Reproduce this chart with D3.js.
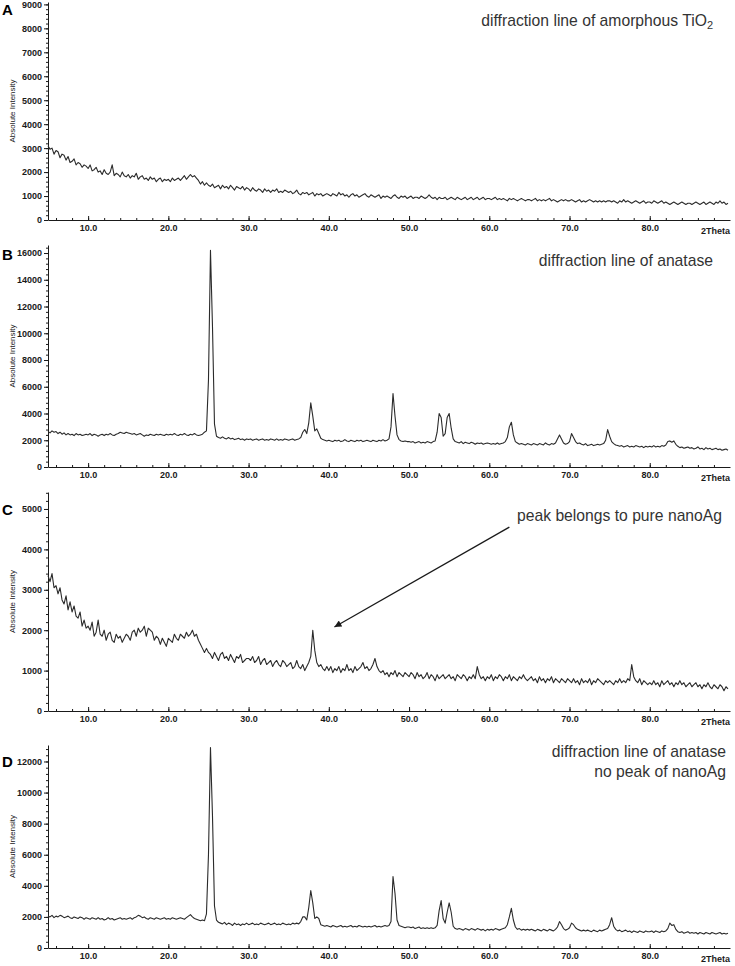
<!DOCTYPE html>
<html>
<head>
<meta charset="utf-8">
<script src="https://cdn.jsdelivr.net/npm/d3@7"></script>
<style>
	body { margin: 0; background: #fff; }
	svg { display: block; font-family: "Liberation Sans", Arial, sans-serif; }
</style>
</head>
<body>
<div id="chart"></div>
<script>
"use strict";

const width = 735, height = 966;

//---- Data
// scan grid: 5.00 .. 89.75 deg 2theta, 0.25 deg per step
const scanStart = 5, scanStep = 0.25;
const xTicks = [10, 20, 30, 40, 50, 60, 70, 80];
const xEndLabel = '2Theta';
const yLabel = 'Absolute Intensity';
const panelLetters = ['A', 'B', 'C', 'D'];
const panelMax = [9100, 16600, 5420, 13060];
const panelStep = [1000, 2000, 1000, 2000];

// A - amorphous TiO2
const intensityA = [
	3100, 2950, 3000, 2750, 2900, 2850, 2600, 2750, 2700, 2500, 2650, 2400, 2450, 2550, 2300, 2400, 2350, 2200, 2300, 2250,
	2150, 2300, 2050, 2100, 2200, 2000, 2050, 1900, 2100, 1950, 1900, 2000, 2300, 1850, 1950, 1900, 1800, 2000, 1850, 1800,
	1900, 1750, 1850, 1800, 1950, 1700, 1800, 1850, 1700, 1750, 1650, 1800, 1700, 1750, 1600, 1700, 1750, 1600, 1700, 1650,
	1700, 1600, 1750, 1650, 1700, 1750, 1650, 1750, 1850, 1700, 1800, 1900, 1800, 1850, 1750, 1650, 1500, 1600, 1450, 1550,
	1450, 1400, 1500, 1350, 1400, 1450, 1300, 1450, 1350, 1400, 1300, 1450, 1350, 1250, 1400, 1350, 1300, 1400, 1250, 1350,
	1300, 1200, 1350, 1250, 1200, 1300, 1250, 1150, 1300, 1200, 1250, 1150, 1250, 1200, 1300, 1150, 1200, 1150, 1250, 1200,
	1150, 1200, 1100, 1150, 1250, 1100, 1050, 1150, 1100, 1150, 1050, 1100, 1150, 1000, 1100, 1050, 1100, 1000, 1050, 1100,
	1050, 1000, 1100, 1050, 1000, 1150, 1050, 1100, 1000, 1050, 950, 1050, 1100, 1000, 1050, 950, 1000, 1050, 1100, 1000,
	950, 1050, 1000, 950, 1000, 1050, 900, 1000, 950, 1000, 950, 900, 1000, 1050, 950, 900, 1000, 950, 1000, 900,
	950, 1000, 900, 950, 950, 900, 1000, 950, 900, 950, 1050, 950, 900, 950, 850, 950, 900, 900, 950, 850,
	900, 950, 900, 850, 950, 900, 850, 900, 950, 850, 900, 950, 850, 900, 950, 850, 900, 950, 850, 900,
	900, 850, 900, 950, 850, 900, 850, 900, 850, 800, 900, 850, 900, 850, 800, 850, 900, 850, 800, 850,
	850, 800, 850, 900, 800, 850, 800, 850, 800, 850, 900, 800, 850, 800, 750, 800, 850, 800, 850, 800,
	800, 850, 800, 750, 800, 850, 750, 800, 750, 800, 850, 800, 750, 800, 750, 800, 750, 800, 750, 800,
	800, 750, 800, 750, 700, 800, 750, 850, 750, 800, 750, 700, 750, 800, 750, 700, 750, 800, 700, 750,
	750, 700, 800, 750, 700, 750, 800, 700, 750, 700, 650, 700, 750, 700, 650, 700, 750, 700, 650, 700,
	700, 650, 700, 750, 700, 650, 700, 750, 650, 700, 750, 700, 650, 750, 700, 800, 700, 750, 650, 700
];

// B - anatase
const intensityB = [
	2650, 2550, 2700, 2600, 2650, 2500, 2600, 2450, 2550, 2400, 2500, 2400, 2450, 2350, 2500, 2400, 2450, 2350, 2400, 2450,
	2400, 2500, 2350, 2450, 2400, 2300, 2400, 2450, 2350, 2450, 2400, 2500, 2400, 2350, 2450, 2500, 2600, 2550, 2500, 2600,
	2550, 2500, 2450, 2500, 2400, 2450, 2500, 2400, 2300, 2400, 2350, 2450, 2400, 2350, 2450, 2400, 2450, 2400, 2350, 2450,
	2400, 2450, 2400, 2500, 2400, 2350, 2450, 2400, 2500, 2400, 2350, 2450, 2400, 2500, 2400, 2350, 2400, 2450, 2600, 2700,
	6500, 16200, 10500, 3200, 2300, 2200, 2150, 2250, 2150, 2100, 2200, 2100, 2150, 2050, 2100, 2150, 2050, 2100, 2000, 2100,
	2050, 2100, 2000, 2050, 2100, 2000, 2050, 2100, 2000, 2050, 2000, 2100, 2050, 2000, 2100, 2000, 2050, 2000, 2100, 2050,
	2000, 2050, 2100, 2000, 2050, 2100, 2200, 2600, 2800, 2500, 3300, 4800, 3800, 2700, 2850, 2500, 2150, 2050, 2000, 1950,
	2000, 1950, 1900, 2000, 1950, 2000, 1900, 1950, 2050, 1950, 1900, 2000, 1950, 1900, 2000, 1950, 2000, 1900, 1950, 2000,
	1950, 1900, 2000, 1950, 1900, 2000, 1950, 2050, 1950, 2000, 2100, 3000, 5500, 3800, 2400, 2050, 1950, 1900, 1950, 1900,
	1900, 1850, 1900, 1800, 1850, 1900, 1800, 1850, 1800, 1900, 1850, 1800, 1900, 1950, 2600, 4000, 3700, 2300, 2500, 3700,
	4000, 2900, 2100, 1900, 1850, 1800, 1900, 1750, 1850, 1800, 1750, 1850, 1800, 1700, 1800, 1750, 1800, 1700, 1750, 1800,
	1750, 1700, 1750, 1700, 1800, 1700, 1750, 1800, 1900, 2200, 3000, 3350, 2400, 1900, 1800, 1700, 1750, 1700, 1650, 1750,
	1700, 1650, 1750, 1700, 1650, 1750, 1700, 1650, 1800, 1700, 1650, 1750, 1700, 1800, 2100, 2400, 2100, 1800, 1700, 1750,
	1900, 2500, 2200, 1900, 1750, 1800, 1700, 1650, 1750, 1600, 1650, 1700, 1600, 1650, 1700, 1650, 1700, 1750, 2000, 2800,
	2300, 1900, 1750, 1650, 1600, 1550, 1600, 1500, 1550, 1600, 1500, 1550, 1500, 1600, 1550, 1500, 1550, 1450, 1550, 1500,
	1550, 1500, 1600, 1500, 1550, 1500, 1600, 1550, 1650, 1900, 1950, 1850, 1950, 1700, 1550, 1450, 1500, 1400, 1450, 1500,
	1400, 1450, 1350, 1400, 1500, 1350, 1400, 1300, 1450, 1350, 1400, 1300, 1350, 1400, 1300, 1350, 1250, 1300, 1350, 1250
];

// C - Ag on amorphous TiO2
const intensityC = [
	3350, 3200, 3400, 3050, 3100, 2900, 3050, 2750, 2650, 2850, 2500, 2700, 2450, 2600, 2350, 2300, 2450, 2100, 2250, 2050,
	2100, 2000, 2200, 1850, 1950, 2250, 1900, 1850, 2000, 1750, 1900, 1950, 1750, 1700, 1900, 1800, 1850, 1700, 1800, 1900,
	1850, 1750, 1950, 2000, 1850, 2050, 1950, 2000, 2100, 1850, 2050, 2000, 1950, 1750, 1850, 1800, 1650, 1800, 1700, 1600,
	1800, 1750, 1700, 1900, 1800, 1750, 1900, 1850, 1800, 1950, 1850, 1900, 2000, 1850, 1900, 1750, 1650, 1550, 1450, 1550,
	1450, 1400, 1300, 1450, 1350, 1250, 1400, 1450, 1300, 1350, 1250, 1400, 1300, 1200, 1350, 1300, 1400, 1200, 1250, 1300,
	1300, 1250, 1350, 1200, 1250, 1350, 1150, 1250, 1300, 1150, 1200, 1250, 1100, 1200, 1250, 1150, 1100, 1250, 1200, 1100,
	1150, 1200, 1050, 1100, 1250, 1100, 1050, 1150, 1000, 1100, 1200, 1350, 2000, 1500, 1200, 1100, 1150, 1050, 1000, 1100,
	1000, 1100, 950, 1050, 1000, 1100, 950, 1050, 1000, 1150, 1000, 1050, 950, 1100, 1000, 1050, 1100, 1200, 1050, 1100,
	1000, 1050, 1150, 1300, 1100, 1000, 950, 1000, 900, 950, 850, 950, 900, 1000, 850, 950, 900, 850, 950, 900,
	850, 950, 900, 800, 950, 850, 900, 800, 850, 950, 800, 900, 850, 750, 900, 800, 850, 900, 800, 850,
	900, 800, 850, 750, 900, 850, 800, 900, 850, 750, 850, 800, 900, 800, 1100, 900, 800, 850, 750, 850,
	800, 900, 750, 850, 800, 900, 850, 750, 850, 800, 900, 750, 850, 800, 750, 850, 800, 900, 800, 750,
	800, 850, 750, 800, 700, 850, 750, 800, 700, 800, 750, 850, 700, 800, 750, 700, 800, 750, 700, 800,
	750, 700, 800, 700, 750, 650, 800, 700, 750, 700, 800, 650, 750, 700, 800, 750, 700, 650, 750, 700,
	750, 700, 650, 750, 700, 800, 700, 750, 700, 800, 750, 1150, 850, 750, 700, 800, 650, 750, 700, 650,
	700, 650, 750, 650, 700, 600, 750, 650, 700, 750, 650, 700, 600, 700, 650, 750, 650, 700, 600, 650,
	700, 600, 650, 700, 600, 650, 550, 650, 600, 700, 600, 550, 650, 600, 550, 650, 600, 500, 600, 550
];

// D - Ag on anatase
const intensityD = [
	2050, 2000, 2100, 1950, 2050, 2000, 2100, 2050, 1950, 2000, 2050, 1950, 1900, 2000, 1950, 1900, 2000, 1950, 1850, 1950,
	1900, 1850, 1950, 1900, 1850, 1950, 1850, 1900, 1800, 1850, 1950, 1850, 1900, 1800, 1850, 1900, 1950, 1850, 1900, 1850,
	1900, 1950, 1850, 1950, 2000, 2100, 2050, 1950, 2000, 1900, 1850, 1950, 1900, 1850, 1950, 1900, 1850, 1900, 1950, 1850,
	1900, 1850, 1950, 1900, 1850, 1900, 1950, 1900, 1850, 1950, 2050, 2150, 2000, 1900, 1850, 1800, 1750, 1800, 1750, 2200,
	6000, 12900, 8500, 2700, 1800, 1650, 1600, 1550, 1650, 1500, 1600, 1550, 1450, 1600, 1500, 1550, 1450, 1550, 1500, 1600,
	1500, 1550, 1600, 1500, 1550, 1500, 1600, 1550, 1500, 1550, 1600, 1500, 1550, 1600, 1500, 1550, 1500, 1600, 1550, 1500,
	1550, 1500, 1600, 1550, 1600, 1550, 1700, 2000, 2000, 1800, 2600, 3700, 2900, 1900, 2000, 1900, 1500, 1450, 1400, 1450,
	1400, 1350, 1450, 1400, 1350, 1400, 1450, 1350, 1400, 1350, 1400, 1450, 1350, 1400, 1350, 1450, 1400, 1350, 1400, 1350,
	1400, 1350, 1400, 1450, 1350, 1400, 1350, 1400, 1450, 1400, 1450, 1700, 4600, 3500, 1800, 1450, 1400, 1350, 1300, 1350,
	1350, 1300, 1350, 1250, 1300, 1350, 1250, 1300, 1250, 1300, 1250, 1300, 1250, 1300, 1450, 2400, 3050, 1900, 1600, 2300,
	2900, 2300, 1400, 1250, 1200, 1250, 1200, 1150, 1250, 1200, 1150, 1250, 1200, 1150, 1250, 1200, 1150, 1200, 1100, 1200,
	1150, 1200, 1150, 1250, 1200, 1150, 1200, 1250, 1300, 1500, 2000, 2550, 1800, 1350, 1200, 1250, 1150, 1200, 1150, 1200,
	1150, 1200, 1150, 1100, 1200, 1150, 1100, 1200, 1150, 1100, 1200, 1150, 1100, 1200, 1350, 1700, 1500, 1250, 1150, 1200,
	1300, 1600, 1500, 1300, 1200, 1150, 1100, 1150, 1100, 1150, 1100, 1050, 1150, 1100, 1050, 1150, 1100, 1150, 1200, 1250,
	1500, 1950, 1400, 1200, 1100, 1150, 1050, 1100, 1150, 1050, 1100, 1000, 1100, 1050, 1000, 1100, 1050, 1000, 1100, 1050,
	1050, 1100, 1000, 1100, 1050, 1000, 1100, 1050, 1100, 1250, 1600, 1450, 1500, 1200, 1050, 1000, 1050, 950, 1000, 1050,
	950, 1000, 950, 1000, 900, 1000, 950, 900, 1000, 950, 900, 1000, 950, 900, 950, 1000, 900, 950, 900, 950
];

const series = [intensityA, intensityB, intensityC, intensityD];

const noteA = ['diffraction line of amorphous TiO', '2'];
const noteB = ['diffraction line of anatase'];
const noteC = ['peak belongs to pure nanoAg'];
const noteD = ['diffraction line of anatase', 'no peak of nanoAg'];
// arrow in panel C, [2theta, intensity] from -> to
const arrowFrom = [62.5, 4550], arrowTo = [40.7, 2080];


//---- Layout
const layout = [
	{top: 2, bottom: 220, letterY: 15},
	{top: 245, bottom: 467, letterY: 260},
	{top: 492, bottom: 711, letterY: 515},
	{top: 745, bottom: 948, letterY: 767}
];
const lineColor = '#2b2b2b', axisColor = '#1a1a1a';

let svg = d3.select('#chart').append('svg')
	.attr('viewBox', [0, 0, width, height])
	.attr('width', width)
	.attr('height', height);

svg.append('defs').append('marker')
	.attr('id', 'arrow')
	.attr('viewBox', '0 0 10 10')
	.attr('refX', 10)
	.attr('refY', 5)
	.attr('markerUnits', 'userSpaceOnUse')
	.attr('markerWidth', 10)
	.attr('markerHeight', 7)
	.attr('orient', 'auto')
	.append('path')
		.attr('d', 'M0,0L10,5L0,10Z')
		.attr('fill', axisColor);

let x = d3.scaleLinear().domain([5, 90]).range([48, 730]);
let yScales = [];

series.forEach((values, p) => {
	let box = layout[p];
	let y = d3.scaleLinear().domain([0, panelMax[p]]).range([box.bottom, box.top]);
	yScales.push(y);
	let g = svg.append('g');

	// y axis, minor then major
	g.append('g')
		.attr('transform', `translate(${x(5)},0)`)
		.call(d3.axisLeft(y).tickValues(d3.range(0, panelMax[p], panelStep[p] / 5)).tickSize(2).tickFormat(''))
		.call(s => s.select('.domain').remove());
	g.append('g')
		.attr('transform', `translate(${x(5)},0)`)
		.call(d3.axisLeft(y).tickValues(d3.range(0, panelMax[p] + 1, panelStep[p])).tickSize(4).tickSizeOuter(0).tickPadding(2).tickFormat(d3.format('d')))
		.classed('ax', true);

	// x axis, minor then major
	g.append('g')
		.attr('transform', `translate(0,${box.bottom})`)
		.call(d3.axisBottom(x).tickValues(d3.range(6, 90, 2)).tickSize(-2).tickFormat(''))
		.call(s => s.select('.domain').remove());
	g.append('g')
		.attr('transform', `translate(0,${box.bottom})`)
		.call(d3.axisBottom(x).tickValues(xTicks).tickSize(-4).tickSizeOuter(0).tickPadding(5).tickFormat(d3.format('.1f')))
		.classed('ax', true);

	g.append('text')
		.attr('x', x(90))
		.attr('y', box.bottom + 14)
		.attr('text-anchor', 'end')
		.attr('font-size', 9)
		.attr('font-weight', 'bold')
		.attr('fill', axisColor)
		.text(xEndLabel);

	g.append('text')
		.attr('transform', `translate(15,${(box.top + box.bottom) / 2}) rotate(-90)`)
		.attr('text-anchor', 'middle')
		.attr('font-size', 8)
		.attr('fill', axisColor)
		.text(yLabel);

	g.append('text')
		.attr('x', 2)
		.attr('y', box.letterY)
		.attr('font-size', 15)
		.attr('font-weight', 'bold')
		.attr('fill', '#000')
		.text(panelLetters[p]);

	// trace
	let line = d3.line()
		.x((d, i) => x(scanStart + i * scanStep))
		.y(d => y(d));
	g.append('path')
		.datum(values)
		.attr('d', line)
		.attr('fill', 'none')
		.attr('stroke', lineColor)
		.attr('stroke-width', 1.1)
		.attr('stroke-linejoin', 'round');
});

svg.selectAll('.ax path, .ax line').attr('stroke', axisColor);
svg.selectAll('.ax text')
	.attr('font-size', 9)
	.attr('font-weight', 'bold')
	.attr('font-family', '"Liberation Sans", Arial, sans-serif')
	.attr('fill', axisColor);
svg.selectAll('.tick line').attr('stroke', axisColor);


//---- Notes
const noteStyle = s => s.attr('font-size', 15.7).attr('fill', '#333').attr('text-anchor', 'end');

let tA = svg.append('text').attr('x', 713).attr('y', 26).call(noteStyle);
tA.append('tspan').text(noteA[0]);
tA.append('tspan').attr('font-size', 11).attr('dy', 3).text(noteA[1]);

svg.append('text').attr('x', 713).attr('y', 266).call(noteStyle).text(noteB[0]);

svg.append('text').attr('x', 722).attr('y', 521).call(noteStyle).text(noteC[0]);

noteD.forEach((t, i) => {
	svg.append('text').attr('x', 726).attr('y', 757 + i * 20).call(noteStyle).text(t);
});

svg.append('line')
	.attr('x1', x(arrowFrom[0]))
	.attr('y1', yScales[2](arrowFrom[1]))
	.attr('x2', x(arrowTo[0]))
	.attr('y2', yScales[2](arrowTo[1]))
	.attr('stroke', axisColor)
	.attr('stroke-width', 1.3)
	.attr('marker-end', 'url(#arrow)');
</script>
</body>
</html>
